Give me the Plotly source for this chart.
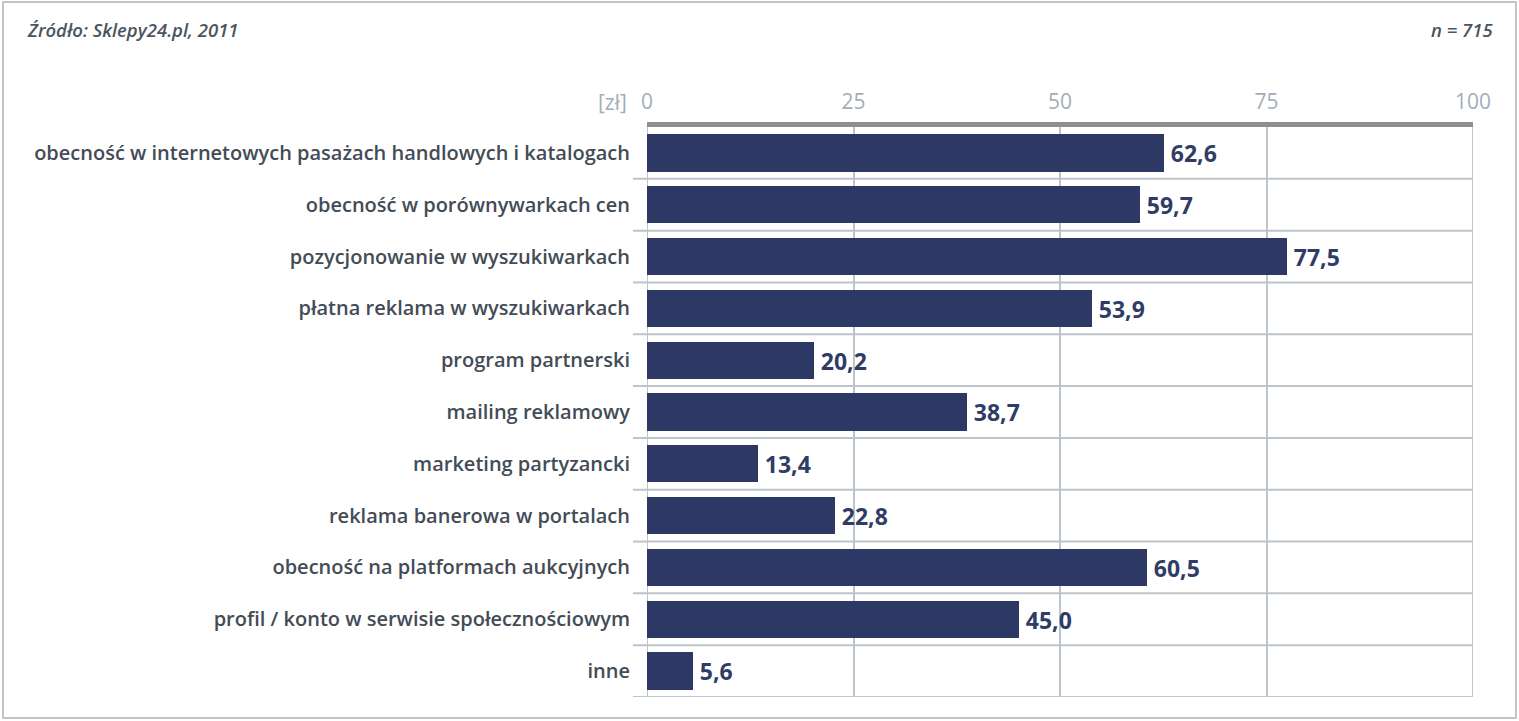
import plotly.graph_objects as go

categories = [
    "obecność w internetowych pasażach handlowych i katalogach",
    "obecność w porównywarkach cen",
    "pozycjonowanie w wyszukiwarkach",
    "płatna reklama w wyszukiwarkach",
    "program partnerski",
    "mailing reklamowy",
    "marketing partyzancki",
    "reklama banerowa w portalach",
    "obecność na platformach aukcyjnych",
    "profil / konto w serwisie społecznościowym",
    "inne",
]
values = [62.6, 59.7, 77.5, 53.9, 20.2, 38.7, 13.4, 22.8, 60.5, 45.0, 5.6]
x_ticks = [0, 25, 50, 75, 100]
source_text = "Źródło: Sklepy24.pl, 2011"
n_text = "n = 715"
unit_text = "[zł]"

positions = list(range(len(categories)))
separators = [p - 0.5 for p in positions] + [positions[-1] + 0.5]
value_labels = ["\u2009" + f"{v:.1f}".replace(".", ",") for v in values]

FONT = "Open Sans"
BAR = "#2e3864"
GRID = "#bcc4cc"

fig = go.Figure(
    go.Bar(
        x=values,
        y=positions,
        orientation="h",
        width=0.72,
        marker=dict(color=BAR, line=dict(width=0)),
        text=value_labels,
        textposition="outside",
        cliponaxis=False,
        textfont=dict(family=FONT, size=23, color="#2f3d66", weight="bold"),
        hoverinfo="skip",
    )
)

fig.update_layout(
    width=1519,
    height=721,
    margin=dict(l=647, r=46, t=127, b=24),
    paper_bgcolor="white",
    plot_bgcolor="white",
    showlegend=False,
    bargap=0,
    font=dict(family=FONT),
)

fig.update_xaxes(
    side="top",
    range=[0, 100],
    tickvals=x_ticks,
    ticktext=[str(t) for t in x_ticks],
    tickfont=dict(family=FONT, size=21, color="#a3adb8"),
    ticks="outside",
    ticklen=5,
    tickcolor="rgba(0,0,0,0)",
    showgrid=True,
    gridcolor=GRID,
    gridwidth=2,
    showline=True,
    linecolor="#8c8e90",
    linewidth=5,
    zeroline=False,
    fixedrange=True,
)

fig.update_yaxes(
    range=[positions[-1] + 0.5, positions[0] - 0.5],
    tickvals=positions,
    ticktext=categories,
    tickfont=dict(family=FONT, size=20, color="#434c56", weight=600),
    ticks="outside",
    ticklen=12,
    tickcolor="rgba(0,0,0,0)",
    showgrid=False,
    zeroline=False,
    showline=False,
    fixedrange=True,
)

# row separators (extend slightly left of the plot area)
for s in separators[1:]:
    fig.add_shape(type="line", xref="paper", yref="y", x0=-14 / 826, x1=1, y0=s, y1=s,
                  line=dict(color=GRID, width=2), layer="below")

# right border at 100 and left line at 0
fig.add_shape(type="line", xref="x", yref="paper", x0=100, x1=100, y0=0, y1=1,
              line=dict(color=GRID, width=2), layer="below")
fig.add_shape(type="line", xref="x", yref="paper", x0=0, x1=0, y0=0, y1=1,
              line=dict(color=GRID, width=2), layer="below")

# outer frame
fig.add_shape(type="rect", xref="paper", yref="paper",
              x0=-644 / 826, x1=(1516 - 647) / 826,
              y0=-(718 - 697) / 570, y1=1 + (127 - 2) / 570,
              line=dict(color="#c4c4c4", width=2), fillcolor="rgba(0,0,0,0)")

fig.add_annotation(text=source_text, xref="paper", yref="paper",
                   x=(25 - 647) / 826, y=1 + (127 - 30) / 570,
                   xanchor="left", yanchor="middle", showarrow=False,
                   font=dict(family=FONT, size=18.5, color="#4a5560", style="italic", weight=600))
fig.add_annotation(text=n_text, xref="paper", yref="paper",
                   x=(1495 - 647) / 826, y=1 + (127 - 30) / 570,
                   xanchor="right", yanchor="middle", showarrow=False,
                   font=dict(family=FONT, size=18.5, color="#4a5560", style="italic", weight=600))
fig.add_annotation(text=unit_text, xref="paper", yref="paper",
                   x=(629 - 647) / 826, y=1 + (127 - 102) / 570,
                   xanchor="right", yanchor="middle", showarrow=False,
                   font=dict(family=FONT, size=21, color="#a3adb8"))

fig.write_html("out.html", config={"displayModeBar": False},
               post_script="document.body.style.margin='0';document.body.style.overflow='hidden';")
